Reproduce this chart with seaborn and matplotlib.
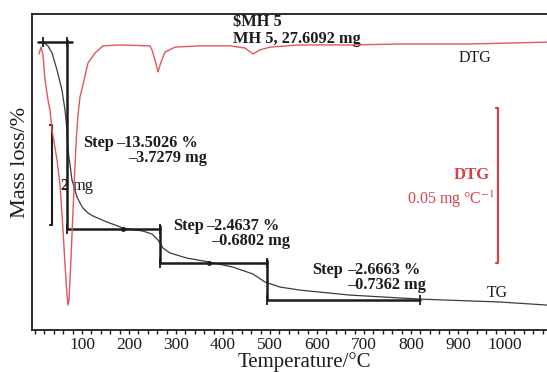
import matplotlib
matplotlib.use("Agg")
import matplotlib.pyplot as plt
from matplotlib.ticker import FixedLocator, MultipleLocator, NullLocator
import seaborn as sns
import pandas as pd

# ---------------- data ----------------
tg_temp = [17.0, 27.7, 36.2, 46.8, 57.4, 63.8, 68.1, 70.2, 74.5, 78.7,
           83.0, 89.4, 95.7, 102.1, 112.8, 123.4, 138.3, 153.2, 170.2, 187.2,
           229.8, 248.9, 261.7, 272.3, 287.2, 323.4, 370.2, 421.3, 463.8, 489.4,
           521.3, 563.8, 670.2, 819.1, 989.4, 1089.4]
tg_mass = [100.0, 99.71, 99.21, 97.98, 96.53, 95.09, 93.65, 92.20, 91.12, 90.04,
           89.53, 88.81, 88.38, 88.01, 87.65, 87.44, 87.22, 87.00, 86.79, 86.57,
           86.35, 86.14, 85.70, 85.13, 84.77, 84.40, 84.12, 83.75, 83.25, 82.67,
           82.31, 82.09, 81.73, 81.44, 81.23, 81.01]

dtg_temp = [8.5, 12.8, 17.0, 21.3, 27.7, 31.9, 36.2, 46.8, 53.2, 59.6,
            63.8, 68.1, 70.2, 72.3, 75.5, 78.7, 81.9, 85.1, 88.3, 91.5,
            95.7, 104.3, 112.8, 127.7, 144.7, 180.9, 244.7, 248.9, 255.3, 261.7,
            268.1, 276.6, 297.9, 351.1, 414.9, 446.8, 463.8, 478.7, 500.0, 563.8,
            670.2, 776.6, 925.5, 1089.4]
dtg_rate = [-0.0032, -0.0010, -0.0035, -0.0116, -0.0181, -0.0213, -0.0277, -0.0374, -0.0455, -0.0600,
            -0.0713, -0.0810, -0.0842, -0.0826, -0.0729, -0.0616, -0.0503, -0.0390, -0.0294, -0.0229,
            -0.0171, -0.0116, -0.0061, -0.0029, -0.0006, -0.0003, -0.0006, -0.0019, -0.0052, -0.0090,
            -0.0058, -0.0026, -0.0010, -0.0006, -0.0006, -0.0013, -0.0032, -0.0019, -0.0010, -0.0003,
            -0.0003, 0.0000, 0.0000, 0.0006]

# step analysis (onset/end temperatures and losses)
step_bounds = [68, 266, 494, 819]
step_losses = [13.5026, 2.4637, 2.6663]
step_mg = [3.7279, 0.6802, 0.7362]
step_mid_marks = [187, 370]
sample_mass_mg = 27.6092
xtick_values = [100, 200, 300, 400, 500, 600, 700, 800, 900, 1000]

# ---------------- style ----------------
sns.set_theme(style="white")
plt.rcParams["font.family"] = ["Liberation Serif", "DejaVu Serif"]
plt.rcParams["mathtext.fontset"] = "stix"

W, H = 547, 372
fig = plt.figure(figsize=(W / 100, H / 100), dpi=100)
ax = fig.add_axes([32 / W, 42 / H, 528 / W, 316 / H])
ax.set_xlim(-6.4, 1117.0)
ax.set_ylim(79.21, 102.02)

ink = "#1c1c1c"
red_line = "#e2555f"
red_txt = "#d8404b"

# TG curve
tg_df = pd.DataFrame({"T": tg_temp, "m": tg_mass})
sns.lineplot(data=tg_df, x="T", y="m", ax=ax, color="#3c3c3c", lw=0.9,
             estimator=None, sort=False, zorder=3)

# step construction lines
levels = [100.0]
for loss in step_losses:
    levels.append(levels[-1] - loss)
slw = 1.8
ax.plot([6, 79], [100.0, 100.0], color=ink, lw=slw, zorder=4)
ax.plot([17, step_bounds[0]], [100.0, 100.0], ls="none", marker="|", ms=7, mew=1.3, color=ink, zorder=4)
for i in range(3):
    t0 = step_bounds[i]
    t1 = step_bounds[i + 1]
    top = levels[i] + (0.15 if i == 0 else 0.2)
    ax.plot([t0, t0], [top, levels[i + 1]], color=ink, lw=slw, zorder=4)
    ax.plot([t0, t1], [levels[i + 1], levels[i + 1]], color=ink, lw=slw, zorder=4)
    ax.plot([t0, t1], [levels[i + 1], levels[i + 1]], ls="none", marker="|", ms=7, mew=1.3, color=ink, zorder=4)
for i, tm in enumerate(step_mid_marks):
    ax.plot([tm], [levels[i + 1]], ls="none", marker="o", ms=2.5, color=ink, zorder=4)

# 2 mg scale bracket
bracket_pct = 2.0 / sample_mass_mg * 100
b_top = 94.0
ax.plot([31, 36, 36, 31], [b_top, b_top, b_top - bracket_pct, b_top - bracket_pct],
        color=ink, lw=1.5, zorder=4)

# axis styling
for s in ["left", "bottom", "top"]:
    ax.spines[s].set_visible(True)
    ax.spines[s].set_color(ink)
    ax.spines[s].set_linewidth(1.3)
ax.spines["right"].set_visible(False)
ax.xaxis.set_major_locator(FixedLocator(xtick_values))
ax.xaxis.set_minor_locator(MultipleLocator(20))
ax.yaxis.set_major_locator(NullLocator())
ax.tick_params(axis="x", which="both", direction="out", length=3, width=1.0,
               color=ink, labelsize=12.5, labelcolor=ink, pad=2, bottom=True, top=False)
ax.set_xlabel("Temperature/°C", fontsize=15, color=ink)
ax.xaxis.set_label_coords(0.515, -0.07)
ax.set_ylabel("Mass loss/%", fontsize=16, color=ink)
ax.yaxis.set_label_coords(-0.004, 0.53)

# DTG on twin axis
ax2 = ax.twinx()
ax2.set_ylim(-0.09226, 0.00968)
ax2.set_xlim(ax.get_xlim())
dtg_df = pd.DataFrame({"T": dtg_temp, "d": dtg_rate})
sns.lineplot(data=dtg_df, x="T", y="d", ax=ax2, color=red_line, lw=1.0,
             estimator=None, sort=False, zorder=2)
ax2.plot([980, 985, 985, 980], [-0.0208, -0.0208, -0.0708, -0.0708], color=red_txt, lw=1.6)
for s in ax2.spines.values():
    s.set_visible(False)
ax2.set_yticks([])
ax2.set_ylabel("")
ax2.set_xlabel("")
ax2.tick_params(axis="both", which="both", length=0)

# ---------------- texts ----------------
fs = 11.8
ax.text(421, 101.44, "$MH 5", fontsize=fs, fontweight="bold", color=ink, va="center", ha="left", zorder=6)
ax.text(421, 100.22, "MH 5, %.4f mg" % sample_mass_mg, fontsize=fs, fontweight="bold", color=ink,
        va="center", ha="left", zorder=6)
ax.text(936, 98.84, "DTG", fontsize=11.5, color=ink, va="center", ha="center", zorder=6)
ax.text(983, 81.88, "TG", fontsize=11.3, color=ink, va="center", ha="center", zorder=6)

step_pos = [((102, 92.71), (172, 92.71), (198, 91.62)),
            ((294, 86.71), (364, 86.71), (374, 85.63)),
            ((589, 83.54), (664, 83.54), (664, 82.45))]
for (p_step, p_pct, p_mg), loss, mg in zip(step_pos, step_losses, step_mg):
    ax.text(*p_step, "Step", fontsize=fs, fontweight="bold", color=ink, va="center", ha="left", zorder=6)
    ax.text(*p_pct, "–%.4f %%" % loss, fontsize=fs, fontweight="bold", color=ink, va="center", ha="left", zorder=6)
    ax.text(*p_mg, "–%.4f mg" % mg, fontsize=fs, fontweight="bold", color=ink, va="center", ha="left", zorder=6)

ax.text(55, 89.6, "2", fontsize=fs, fontweight="bold", color=ink, va="center", ha="left", zorder=6)
ax.text(80, 89.6, "mg", fontsize=fs, color=ink, va="center", ha="left", zorder=6)

ax.text(930, 90.40, "DTG", fontsize=12, fontweight="bold", color=red_txt, va="center", ha="center", zorder=6)
ax.text(979, 88.66, "0.05 mg °C$^{-1}$", fontsize=11.5, color=red_txt, va="center", ha="right", zorder=6)

fig.savefig("out.png", dpi=100)
